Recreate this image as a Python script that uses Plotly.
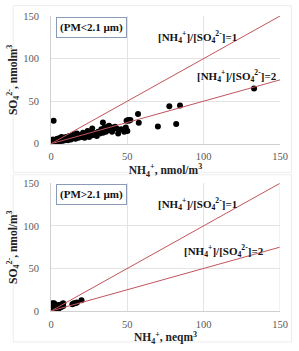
import plotly.graph_objects as go

# ---- data ----
top_nh4 = [0.5, 0.8, 1, 1.2, 1.5, 1.7, 2, 2, 2.5, 3, 3, 3.5, 4, 4, 4.5, 5, 5, 5.5, 6, 6,
           6.5, 7, 7, 7.5, 8, 8, 9, 9, 10, 10, 11, 11, 12, 12, 13, 13, 14, 14, 15, 15,
           16, 16, 17, 17, 18, 18, 19, 20, 20, 21, 21, 22, 22, 23, 24, 24, 25, 25, 26, 27,
           27, 28, 29, 30, 30, 31, 32, 33, 33, 34, 34, 35, 35, 36, 37, 37, 38, 38, 39, 40,
           40, 41, 42, 43, 44, 46, 48, 48, 49, 49, 49.5, 50, 50.5, 51, 52, 57, 57.5, 70, 77.5, 82,
           84.5, 133]
top_so4 = [1, 3, 2, 5, 0.5, 27, 1.5, 4, 3, 1, 2.5, 4, 2, 6, 3, 2.5, 5, 4, 3, 7,
           5, 4, 8, 3, 5, 6, 4, 7, 5, 8, 6, 4, 7, 9, 6, 5, 8, 10, 7, 11,
           8, 6, 9, 12, 7, 10, 9, 10, 8, 11, 13, 7, 9, 12, 10, 15, 8, 11, 13, 18,
           10, 12, 11, 13, 9, 14, 12, 17, 15, 25, 13, 16, 19, 14, 18, 20, 16, 21, 17, 19,
           14, 18, 20, 18, 12, 17, 14, 16, 16, 19, 27, 15, 28, 27, 28, 35, 24.5, 20.3, 44, 23.3,
           45, 65]

bot_nh4 = [0.3, 0.5, 0.5, 0.8, 1, 1, 1, 1.2, 1.5, 1.5, 2, 2, 2, 2.2, 2.5, 2.5, 3, 3, 3, 3.5,
           3.5, 4, 4, 4.5, 5, 5, 5.5, 6, 6, 7, 7, 8, 8, 14, 15, 16, 17, 20]
bot_so4 = [1, 3, 6, 8, 2, 5, 9, 4, 7, 1, 3, 6, 9, 2, 5, 8, 4, 1.5, 7, 3,
           6, 5, 2, 4, 3, 7, 5, 4, 6, 5, 8, 9, 6, 8, 9, 9, 10, 12.5]

ratio_x = [0, 150]
ratio1_y = [0, 150]   # [NH4+]/[SO4 2-] = 1
ratio2_y = [0, 75]    # [NH4+]/[SO4 2-] = 2

x_ticks = [0, 50, 100, 150]
y_ticks = [0, 50, 100, 150]

LINE = "#c0545c"
SERIF = "Liberation Serif"

fig = go.Figure()

fig.add_trace(go.Scatter(x=top_nh4, y=top_so4, mode="markers", xaxis="x", yaxis="y",
                         marker=dict(color="black", size=6), showlegend=False))
fig.add_trace(go.Scatter(x=ratio_x, y=ratio1_y, mode="lines", xaxis="x", yaxis="y",
                         line=dict(color=LINE, width=1), showlegend=False))
fig.add_trace(go.Scatter(x=ratio_x, y=ratio2_y, mode="lines", xaxis="x", yaxis="y",
                         line=dict(color=LINE, width=1), showlegend=False))

fig.add_trace(go.Scatter(x=bot_nh4, y=bot_so4, mode="markers", xaxis="x2", yaxis="y2",
                         marker=dict(color="black", size=6), showlegend=False))
fig.add_trace(go.Scatter(x=ratio_x, y=ratio1_y, mode="lines", xaxis="x2", yaxis="y2",
                         line=dict(color=LINE, width=1), showlegend=False))
fig.add_trace(go.Scatter(x=ratio_x, y=ratio2_y, mode="lines", xaxis="x2", yaxis="y2",
                         line=dict(color=LINE, width=1), showlegend=False))

tickfont = dict(family=SERIF, size=10.5, color="#595959")
titlefont = dict(family=SERIF, size=11.5, color="#222222")

def xax(title, anchor):
    return dict(range=[0, 150], tickvals=x_ticks, anchor=anchor, showgrid=True,
                gridcolor="#e3e3e3", gridwidth=1, zeroline=False, showline=True,
                linecolor="#d0d0d0", ticks="", tickfont=tickfont, ticklabelstandoff=3,
                title=dict(text="<b>" + title + "</b>", font=titlefont, standoff=2))

def yax(title, anchor, domain):
    return dict(range=[0, 150], tickvals=y_ticks, anchor=anchor, domain=domain,
                showgrid=True, gridcolor="#e3e3e3", gridwidth=1, zeroline=False,
                showline=True, linecolor="#d0d0d0", ticks="", tickfont=tickfont,
                ticklabelstandoff=9,
                title=dict(text="<b>" + title + "</b>", font=titlefont, standoff=3))

fig.update_layout(
    width=299, height=351,
    margin=dict(l=51, r=16, t=11, b=33),
    paper_bgcolor="white", plot_bgcolor="white",
    xaxis=xax("NH<sub>4</sub><sup>+</sup>, nmol/m<sup>3</sup>", "y"),
    yaxis=yax("SO<sub>4</sub><sup>2-</sup>, nmolm<sup>3</sup>", "x", [0.567, 1]),
    xaxis2=xax("NH<sub>4</sub><sup>+</sup>, neqm<sup>3</sup>", "y2"),
    yaxis2=yax("SO<sub>4</sub><sup>2-</sup>, nmol/m<sup>3</sup>", "x2", [0, 0.433]),
)

labfont = dict(family=SERIF, size=11, color="#111111")
ann = []
for xr, yr, l1y, l2x, l2y in [("x", "y", 125, 122, 80), ("x2", "y2", 125.5, 113.5, 71)]:
    ann.append(dict(x=96, y=l1y, xref=xr, yref=yr, showarrow=False, font=labfont,
                    text="<b>[NH<sub>4</sub><sup>+</sup>]/[SO<sub>4</sub><sup>2-</sup>]=1</b>"))
    ann.append(dict(x=l2x, y=l2y, xref=xr, yref=yr, showarrow=False, font=labfont,
                    text="<b>[NH<sub>4</sub><sup>+</sup>]/[SO<sub>4</sub><sup>2-</sup>]=2</b>"))
ann.append(dict(x=26.6, y=137, xref="x", yref="y", showarrow=False, font=labfont,
                text="<b>(PM<2.1 µm)</b>", bordercolor="#8a9bb8", borderwidth=1,
                borderpad=3, bgcolor="white"))
ann.append(dict(x=26.6, y=136.8, xref="x2", yref="y2", showarrow=False, font=labfont,
                text="<b>(PM>2.1 µm)</b>", bordercolor="#8a9bb8", borderwidth=1,
                borderpad=3, bgcolor="white"))
fig.update_layout(annotations=ann)

# faint chart-area frames and right edge of lower plot
fig.update_layout(shapes=[
    dict(type="rect", xref="paper", yref="paper", x0=-0.165, x1=1.05, y0=0.47, y1=1.035,
         line=dict(color="#ececec", width=1)),
    dict(type="rect", xref="paper", yref="paper", x0=-0.165, x1=1.05, y0=-0.105, y1=0.462,
         line=dict(color="#ececec", width=1)),
    dict(type="line", xref="x2", yref="y2", x0=150, x1=150, y0=0, y1=150,
         line=dict(color="#e3e3e3", width=1)),
])

fig.write_html("out.html")
